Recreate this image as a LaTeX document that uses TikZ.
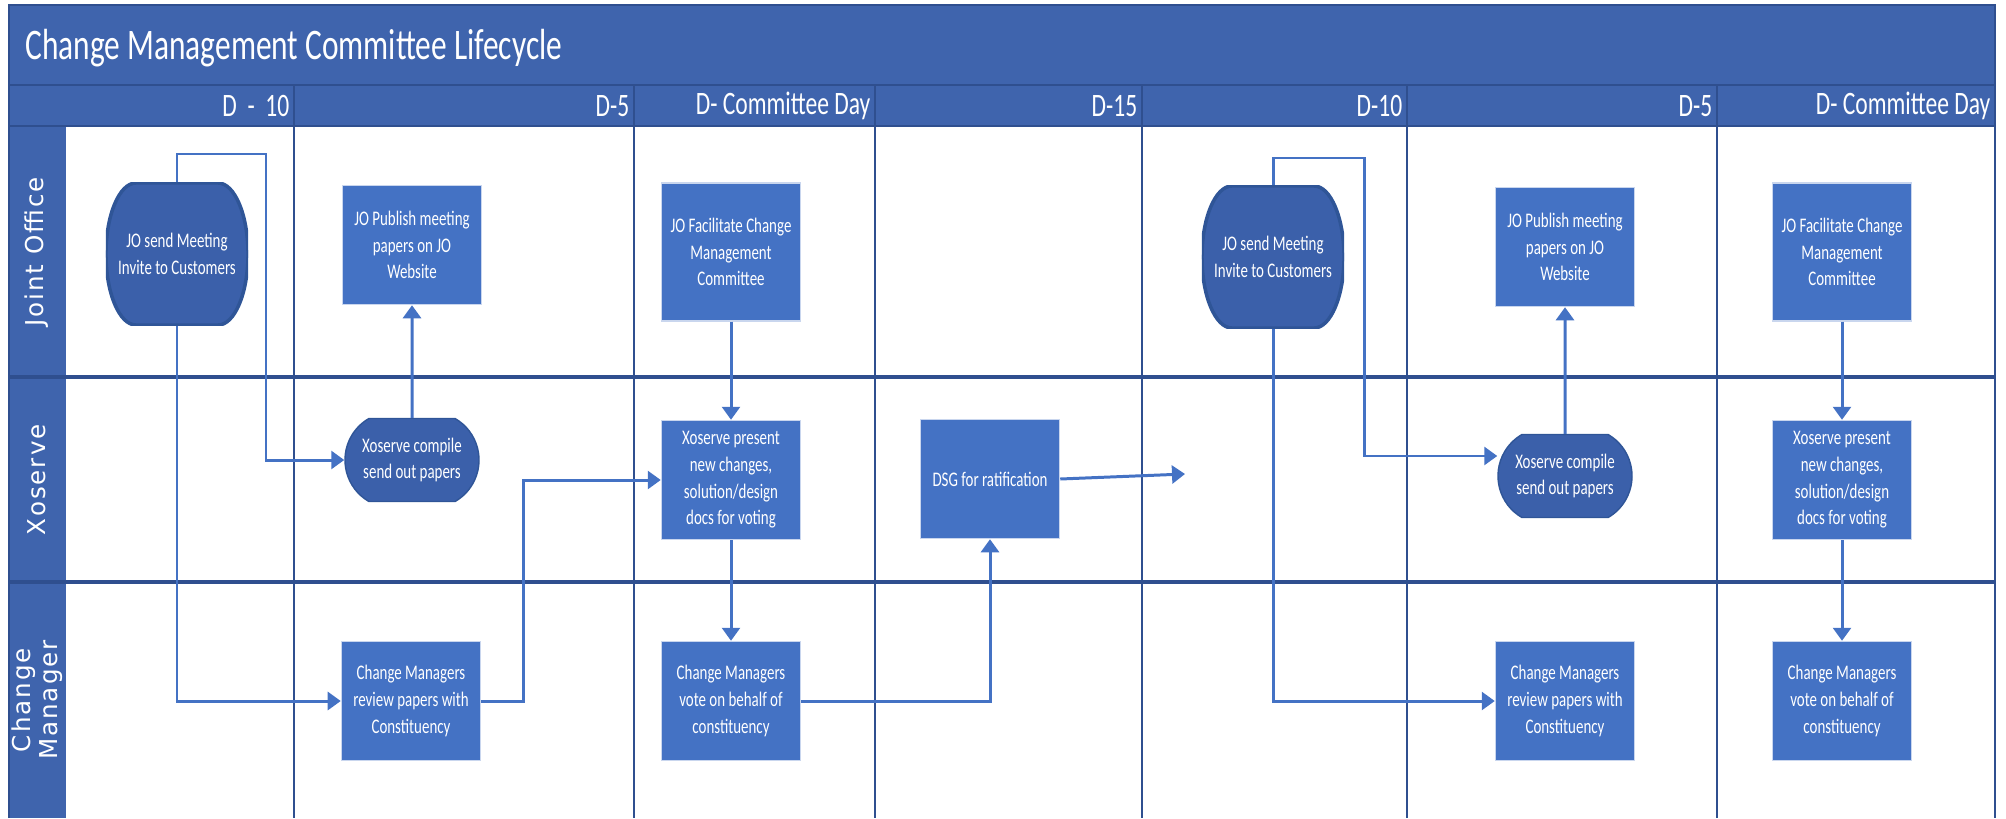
\documentclass[tikz,border=0pt]{standalone}
\usepackage{fontspec}
\setmainfont{Carlito}[FakeStretch=0.72]
\newfontfamily\lanefont[LetterSpace=8]{DejaVu Sans}
\usepackage{tikz}
\usetikzlibrary{shapes.misc}
\usetikzlibrary{arrows.meta}
\tikzset{>={Triangle[length=3.7pt,width=5.1pt]}}
\definecolor{hdrblue}{HTML}{3F64AD}
\definecolor{boxblue}{HTML}{4472C4}
\definecolor{boxedge}{HTML}{C9D6EE}
\definecolor{darkbox}{HTML}{3B60AA}
\definecolor{darkedge}{HTML}{2F5597}
\definecolor{gridline}{HTML}{2F4F8F}

\begin{document}
\begin{tikzpicture}
	[x=0.01cm,y=-0.01cm,
	task/.style={rectangle,draw=boxedge,fill=boxblue,text=white,minimum width=1.39cm,minimum height=1.19cm,align=center,inner sep=1pt,font=\fontsize{5.9}{7.6}\selectfont},
	barrel/.style={rectangle,minimum width=1.42cm,minimum height=1.42cm,text=white,align=center,inner sep=0pt,font=\fontsize{5.9}{7.6}\selectfont,
		path picture={\path[fill=darkbox,draw=darkedge,line width=1pt]
			([xshift=0.3cm]path picture bounding box.north west) -- ([xshift=-0.3cm]path picture bounding box.north east)
			arc[start angle=90,end angle=-90,x radius=0.3cm,y radius=0.71cm]
			-- ([xshift=0.3cm]path picture bounding box.south west)
			arc[start angle=270,end angle=90,x radius=0.3cm,y radius=0.71cm] -- cycle;}},
	pill/.style={rounded rectangle,rounded rectangle arc length=120,draw=darkedge,fill=darkbox,text=white,minimum width=1.41cm,minimum height=0.83cm,align=center,inner sep=1pt,font=\fontsize{5.9}{7.6}\selectfont},
	flow/.style={->,draw=boxblue,line width=0.85pt},
	grid/.style={draw=gridline,line width=0.6pt},
	lane/.style={rotate=90,text=white,align=center,font=\lanefont\fontsize{7}{7.8}\selectfont},
	day/.style={anchor=east,text=white,inner sep=0pt,font=\fontsize{9.3}{11}\selectfont}]
	\useasboundingbox (0,0) rectangle (2006,818);
	\fill[hdrblue] (9,5) rectangle (1995,126);
	\fill[hdrblue] (9,126) rectangle (66,818);
	\draw[grid] (9,85) -- (1995,85);
	\draw[grid] (9,126) -- (1995,126);
	\draw[grid,line width=1.1pt] (9,377) -- (1995,377);
	\draw[grid,line width=1.1pt] (9,582) -- (1995,582);
	\foreach \x in {294,634,875,1142,1407,1717}
		\draw[grid] (\x,85) -- (\x,818);
	\draw[grid] (9,818) -- (9,5) -- (1995,5) -- (1995,818);
	\node[anchor=west,text=white,font=\fontsize{12.4}{15}\selectfont] (title) at (13,48) {Change Management Committee Lifecycle};
	\foreach \x/\d [count=\i] in {290/D \ - \ 10,630/D-5,871/D- Committee Day,1138/D-15,1403/D-10,1713/D-5,1991/D- Committee Day}
		\node[day] (day\i) at (\x,106) {\d};
	\node[lane] (jo) at (37,252) {Joint Office};
	\node[lane] (xo) at (37,480) {Xoserve};
	\node[lane] (cm) at (37,700) {Change\\Manager};

	\node[barrel] (send1) at (177,254) {JO send Meeting\\Invite to Customers};
	\node[task] (pub1) at (412,245) {JO Publish meeting\\papers on JO\\Website};
	\node[task,minimum height=1.38cm] (fac1) at (731,252) {JO Facilitate Change\\Management\\Committee};
	\node[pill] (comp1) at (412,460) {Xoserve compile\\send out papers};
	\node[task] (pres1) at (731,480) {Xoserve present\\new changes,\\solution/design\\docs for voting};
	\node[task] (dsg) at (990,479) {DSG for ratification};
	\node[task] (rev1) at (411,701) {Change Managers\\review papers with\\Constituency};
	\node[task] (vote1) at (731,701) {Change Managers\\vote on behalf of\\constituency};

	\node[barrel] (send2) at (1273,257) {JO send Meeting\\Invite to Customers};
	\node[task] (pub2) at (1565,247) {JO Publish meeting\\papers on JO\\Website};
	\node[task,minimum height=1.38cm] (fac2) at (1842,252) {JO Facilitate Change\\Management\\Committee};
	\node[pill] (comp2) at (1565,476) {Xoserve compile\\send out papers};
	\node[task] (pres2) at (1842,480) {Xoserve present\\new changes,\\solution/design\\docs for voting};
	\node[task] (rev2) at (1565,701) {Change Managers\\review papers with\\Constituency};
	\node[task] (vote2) at (1842,701) {Change Managers\\vote on behalf of\\constituency};

	\coordinate (up1) at (266,154);
	\coordinate (up2) at (1364,158);
	\coordinate (next) at (1185,474);
	\draw[flow] (send1.north) |- (up1) |- (comp1.west);
	\draw[flow] (send1.south) |- (rev1.west);
	\draw[flow] (comp1) -- (pub1);
	\draw[flow] (rev1.east) -- ++(42,0) |- (pres1.west);
	\draw[flow] (fac1) -- (pres1);
	\draw[flow] (pres1) -- (vote1);
	\draw[flow] (vote1.east) -| (dsg.south);
	\draw[flow] (dsg.east) -- (next);
	\draw[flow] (send2.north) |- (up2) |- ([yshift=0.2cm]comp2.west);
	\draw[flow] (send2.south) |- (rev2.west);
	\draw[flow] (comp2) -- (pub2);
	\draw[flow] (fac2) -- (pres2);
	\draw[flow] (pres2) -- (vote2);
\end{tikzpicture}
\end{document}
